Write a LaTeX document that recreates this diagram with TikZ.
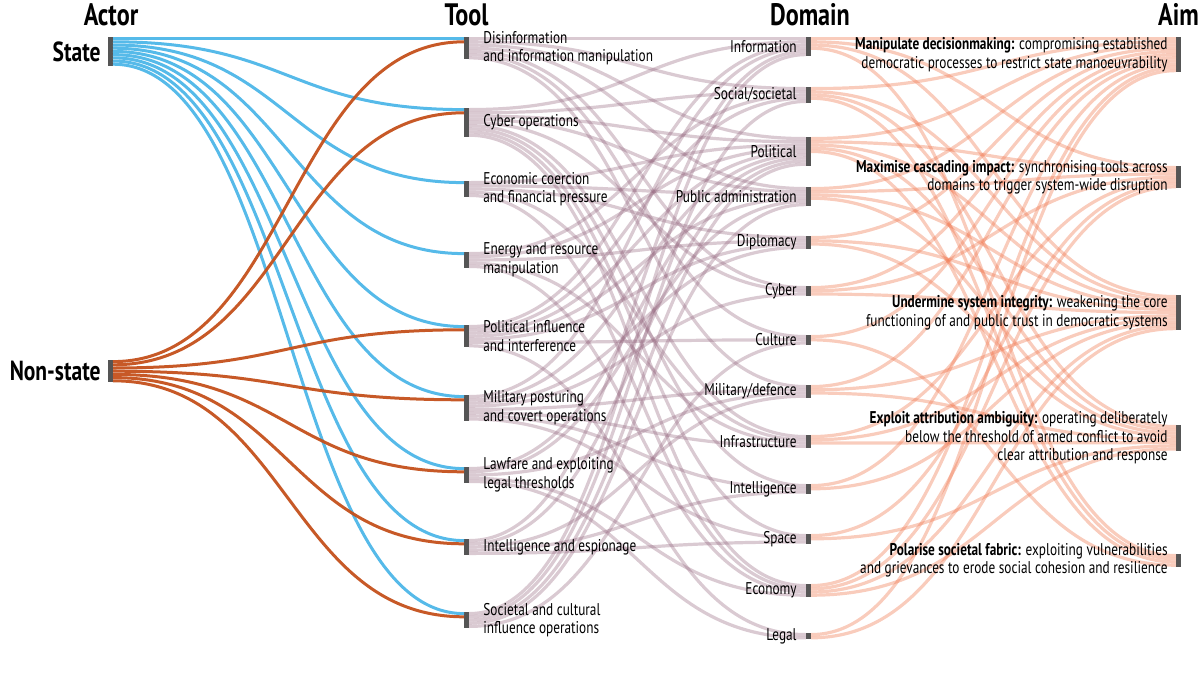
\documentclass[tikz,border=0pt]{standalone}
\usepackage{fontspec}
\setmainfont{PT Sans}[FakeStretch=0.78]
\usetikzlibrary{positioning, calc}
\definecolor{barcol}{HTML}{555555}
\definecolor{statecol}{HTML}{4DB6E8}
\definecolor{nonstatecol}{HTML}{C4501B}
\definecolor{toolcol}{HTML}{94667E}
\definecolor{domaincol}{HTML}{F07850}
\tikzset{%
  bar/.style={fill=barcol, draw=none, minimum width=2.5pt, minimum height=#1*1.6pt, inner sep=0, outer sep=0, anchor=north},
  header/.style={font=\bfseries\fontsize{15.5}{17}\selectfont, anchor=base, inner sep=0},
  actorlabel/.style={font=\bfseries\fontsize{13.8}{15}\selectfont, inner sep=0},
  toollabel/.style={font=\fontsize{8.5}{9.3}\selectfont, align=left, inner sep=0},
  domainlabel/.style={font=\fontsize{8.5}{9.3}\selectfont, inner sep=0},
  aimlabel/.style={font=\fontsize{8.5}{9.3}\selectfont, align=right, inner sep=0},
  statelink/.style={draw=statecol, line width=1.5pt, opacity=0.95},
  nonstatelink/.style={draw=nonstatecol, line width=1.5pt, opacity=0.95},
  toollink/.style={draw=toolcol, line width=1.6pt, opacity=0.35},
  domainlink/.style={draw=domaincol, line width=1.6pt, opacity=0.38}}
% sankey band: style, source, slot, target, slot, half gap
\newcommand{\flow}[6]{%
  \draw[#1] ($(#2.north east)+(0,{(#3+0.5)*3.2})$) .. controls +(#6,0) and +(-#6,0) .. ($(#4.north west)+(0,{(#5+0.5)*3.2})$);}
\begin{document}
\begin{tikzpicture}[x=0.5pt, y=-0.5pt]
  \useasboundingbox (0,0) rectangle (1200,675);

  % column headers
  \node [header] (hactor) at (111, 25) {Actor};
  \node [header] (htool) at (466.5, 25) {Tool};
  \node [header] (hdomain) at (810, 25) {Domain};
  \node [header] (haim) at (1178.5, 25) {Aim};

  % actors
  \node [bar=9] (state) at (110.5, 37) {};
  \node [bar=7] (nonstate) at (110.5, 360) {};

  % tools
  \node [bar=7] (t1) at (466.5, 37) {};
  \node [bar=9] (t2) at (466.5, 108) {};
  \node [bar=5] (t3) at (466.5, 181) {};
  \node [bar=5] (t4) at (466.5, 252) {};
  \node [bar=7] (t5) at (466.5, 325) {};
  \node [bar=8] (t6) at (466.5, 395) {};
  \node [bar=5] (t7) at (466.5, 467) {};
  \node [bar=5] (t8) at (466.5, 539) {};
  \node [bar=5] (t9) at (466.5, 612) {};

  % domains
  \node [bar=6] (dinfo) at (808.5, 37) {};
  \node [bar=5] (dsocial) at (808.5, 87) {};
  \node [bar=9] (dpol) at (808.5, 137) {};
  \node [bar=6] (dpub) at (808.5, 187) {};
  \node [bar=4] (ddipl) at (808.5, 236) {};
  \node [bar=3] (dcyber) at (808.5, 286) {};
  \node [bar=3] (dculture) at (808.5, 335) {};
  \node [bar=4] (dmil) at (808.5, 385) {};
  \node [bar=4] (dinfra) at (808.5, 435) {};
  \node [bar=3] (dintel) at (808.5, 484) {};
  \node [bar=3] (dspace) at (808.5, 534) {};
  \node [bar=4] (decon) at (808.5, 584) {};
  \node [bar=2] (dlegal) at (808.5, 633) {};

  % aims
  \node [bar=11] (amanip) at (1178.5, 37) {};
  \node [bar=7] (amax) at (1178.5, 166) {};
  \node [bar=11] (aunder) at (1178.5, 295) {};
  \node [bar=8] (aexploit) at (1178.5, 425) {};
  \node [bar=4] (apolar) at (1178.5, 554) {};

  % tool -> domain
  \foreach \src/\a/\dst/\b in {t1/0/dinfo/0, t1/1/dsocial/0, t1/2/dpol/0, t1/3/dpub/0, t1/4/dcyber/0, t1/5/dculture/0, t1/6/dmil/0,
      t2/0/dinfo/1, t2/1/dsocial/1, t2/2/dpol/1, t2/3/dpub/1, t2/4/dcyber/1, t2/5/dinfra/0, t2/6/dintel/0, t2/7/dspace/0, t2/8/decon/0,
      t3/0/dpol/2, t3/1/dpub/2, t3/2/ddipl/0, t3/3/dinfra/1, t3/4/decon/1,
      t4/0/dsocial/2, t4/1/dpol/3, t4/2/ddipl/1, t4/3/dinfra/2, t4/4/decon/2,
      t5/0/dinfo/2, t5/1/dsocial/3, t5/2/dpol/4, t5/3/dpub/3, t5/4/ddipl/2, t5/5/dculture/1, t5/6/dlegal/0,
      t6/0/dinfo/3, t6/1/dpol/5, t6/2/ddipl/3, t6/3/dcyber/2, t6/4/dmil/1, t6/5/dinfra/3, t6/6/dintel/1, t6/7/dspace/1,
      t7/0/dpol/6, t7/1/dpub/4, t7/2/dmil/2, t7/3/decon/3, t7/4/dlegal/1,
      t8/0/dinfo/4, t8/1/dpol/7, t8/2/dmil/3, t8/3/dintel/2, t8/4/dspace/2,
      t9/0/dinfo/5, t9/1/dsocial/4, t9/2/dpol/8, t9/3/dpub/5, t9/4/dculture/2}
    \flow{toollink}{\src}{\a}{\dst}{\b}{168};

  % domain -> aim
  \foreach \src/\a/\dst/\b in {dinfo/0/amanip/0, dinfo/1/amax/0, dinfo/2/aunder/0, dinfo/3/apolar/0,
      dsocial/0/amanip/1, dsocial/1/aunder/1, dsocial/2/aexploit/0, dsocial/3/apolar/1,
      dpol/0/amanip/2, dpol/1/amax/1, dpol/2/aunder/2, dpol/3/aexploit/1, dpol/4/apolar/2,
      dpub/0/amanip/3, dpub/1/amax/2, dpub/2/aunder/3, dpub/3/aexploit/2,
      ddipl/0/amanip/4, ddipl/1/aunder/4, ddipl/2/aexploit/3,
      dcyber/0/amanip/5, dcyber/1/amax/3, dcyber/2/aunder/5,
      dculture/0/amanip/6, dculture/1/apolar/3,
      dmil/0/amanip/7, dmil/1/aunder/6, dmil/2/aexploit/4,
      dinfra/0/amax/4, dinfra/1/aunder/7, dinfra/2/aexploit/5,
      dintel/0/amanip/8, dintel/1/aunder/8,
      dspace/0/amax/5, dspace/1/aexploit/6,
      decon/0/amanip/9, decon/1/amax/6, decon/2/aunder/9, decon/3/aexploit/7,
      dlegal/0/amanip/10, dlegal/1/aunder/10}
    \flow{domainlink}{\src}{\a}{\dst}{\b}{182};

  % actor -> tool
  \foreach \dst/\a in {t1/0, t2/1, t3/2, t4/3, t5/4, t6/5, t7/6, t8/7, t9/8}
    \flow{statelink}{state}{\a}{\dst}{0}{175};
  \foreach \dst/\a in {t1/0, t2/1, t5/2, t6/3, t7/4, t8/5, t9/6}
    \flow{nonstatelink}{nonstate}{\a}{\dst}{1}{175};

  % labels
  \node [actorlabel, left=3.5pt of state] (lstate) {State};
  \node [actorlabel, left=3.5pt of nonstate] (lnonstate) {Non-state};

  \node [toollabel, right=7pt of t1] (lt1) {Disinformation\\and information manipulation};
  \node [toollabel, right=7pt of t2] (lt2) {Cyber operations};
  \node [toollabel, right=7pt of t3] (lt3) {Economic coercion\\and financial pressure};
  \node [toollabel, right=7pt of t4] (lt4) {Energy and resource\\manipulation};
  \node [toollabel, right=7pt of t5] (lt5) {Political influence\\and interference};
  \node [toollabel, right=7pt of t6] (lt6) {Military posturing\\and covert operations};
  \node [toollabel, right=7pt of t7] (lt7) {Lawfare and exploiting\\legal thresholds};
  \node [toollabel, right=7pt of t8] (lt8) {Intelligence and espionage};
  \node [toollabel, right=7pt of t9] (lt9) {Societal and cultural\\influence operations};

  \node [domainlabel, left=4.5pt of dinfo] (ldinfo) {Information};
  \node [domainlabel, left=4.5pt of dsocial] (ldsocial) {Social/societal};
  \node [domainlabel, left=4.5pt of dpol] (ldpol) {Political};
  \node [domainlabel, left=4.5pt of dpub] (ldpub) {Public administration};
  \node [domainlabel, left=4.5pt of ddipl] (lddipl) {Diplomacy};
  \node [domainlabel, left=4.5pt of dcyber] (ldcyber) {Cyber};
  \node [domainlabel, left=4.5pt of dculture] (ldculture) {Culture};
  \node [domainlabel, left=4.5pt of dmil] (ldmil) {Military/defence};
  \node [domainlabel, left=4.5pt of dinfra] (ldinfra) {Infrastructure};
  \node [domainlabel, left=4.5pt of dintel] (ldintel) {Intelligence};
  \node [domainlabel, left=4.5pt of dspace] (ldspace) {Space};
  \node [domainlabel, left=4.5pt of decon] (ldecon) {Economy};
  \node [domainlabel, left=4.5pt of dlegal] (ldlegal) {Legal};

  \node [aimlabel, left=4pt of amanip] (lamanip) {\textbf{Manipulate decisionmaking:} compromising established\\democratic processes to restrict state manoeuvrability};
  \node [aimlabel, left=4pt of amax] (lamax) {\textbf{Maximise cascading impact:} synchronising tools across\\domains to trigger system-wide disruption};
  \node [aimlabel, left=4pt of aunder] (launder) {\textbf{Undermine system integrity:} weakening the core\\functioning of and public trust in democratic systems};
  \node [aimlabel, left=4pt of aexploit] (laexploit) {\textbf{Exploit attribution ambiguity:} operating deliberately\\below the threshold of armed conflict to avoid\\clear attribution and response};
  \node [aimlabel, left=4pt of apolar] (lapolar) {\textbf{Polarise societal fabric:} exploiting vulnerabilities\\and grievances to erode social cohesion and resilience};
\end{tikzpicture}
\end{document}
